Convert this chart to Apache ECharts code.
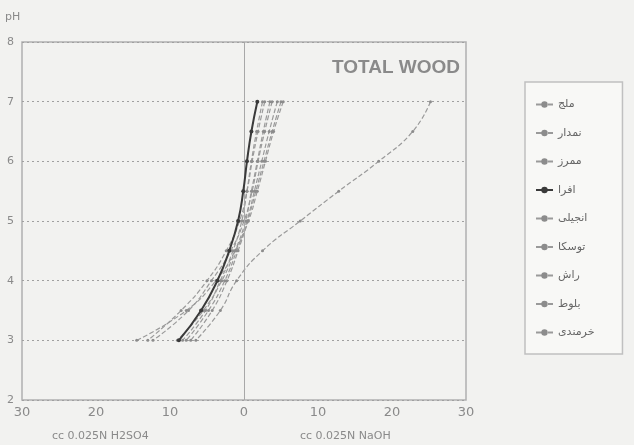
<!DOCTYPE html>
<html>
<head>
<meta charset="utf-8">
<script src="https://cdn.jsdelivr.net/npm/echarts@6/dist/echarts.min.js"></script>
<style>
  html, body { margin: 0; padding: 0; background: #f2f2f0; }
  #chart { width: 634px; height: 445px; }
</style>
</head>
<body>
<div id="chart"></div>
<script>
// pH levels the curves are read at
const phLevels = [7, 6.5, 6, 5.5, 5, 4.5, 4, 3.5, 3];

// cc of titrant at each pH (acid negative, base positive)
const woodNames = ['ملج', 'نمدار', 'ممرز', 'افرا', 'انجیلی', 'توسکا', 'راش', 'بلوط', 'خرمندی'];
const molj    = [3.5, 2.6, 1.8, 1.0, 0.2, -1.2, -3.0, -5.5, -9.0];
const namdar  = [4.5, 3.4, 2.4, 1.4, 0.4, -1.0, -2.6, -4.8, -7.8];
const mamraz  = [5.0, 3.8, 2.7, 1.6, 0.5, -0.8, -2.3, -4.3, -7.2];
const afra    = [1.8, 1.0, 0.4, -0.1, -0.8, -2.0, -3.6, -5.8, -8.8];
const anjili  = [2.8, 1.9, 1.1, 0.4, -0.6, -2.4, -5.0, -8.5, -13.0];
const tuska   = [3.8, 2.8, 1.9, 1.1, 0.0, -1.8, -4.4, -7.5, -12.3];
const rash    = [5.3, 4.0, 2.9, 1.8, 0.6, -1.2, -3.8, -7.8, -14.5];
const balut   = [2.5, 1.7, 1.0, 0.4, -0.3, -1.5, -3.2, -5.2, -8.3];
const khormendi = [25.2, 22.8, 18.2, 12.8, 7.6, 2.5, -1.0, -3.2, -6.5];

const seriesValues = [molj, namdar, mamraz, afra, anjili, tuska, rash, balut, khormendi];

const chart = echarts.init(document.getElementById('chart'));

const series = seriesValues.map((vals, i) => {
  const isBold = i === 3;
  return {
    name: woodNames[i],
    type: 'line',
    data: vals.map((v, k) => [v, phLevels[k]]),
    smooth: true,
    symbol: 'circle',
    symbolSize: isBold ? 4 : 3,
    lineStyle: {
      width: isBold ? 2 : 1.2,
      color: isBold ? '#3a3a3a' : '#9a9a9a',
      type: isBold ? 'solid' : 'dashed'
    },
    itemStyle: { color: isBold ? '#3a3a3a' : '#8c8c8c' },
    z: isBold ? 5 : 3
  };
});

// vertical line at zero
series.push({
  type: 'line',
  data: [],
  markLine: {
    silent: true,
    symbol: 'none',
    label: { show: false },
    lineStyle: { color: '#a8a8a8', type: 'solid', width: 1 },
    data: [{ xAxis: 0 }]
  }
});

chart.setOption({
  backgroundColor: '#f2f2f0',
  animation: false,
  textStyle: { fontFamily: 'DejaVu Sans' },
  title: {
    text: 'TOTAL WOOD',
    right: 169,
    top: 53,
    textStyle: { color: '#8a8a8a', fontSize: 19, fontWeight: 'bold', fontFamily: 'Liberation Sans' }
  },
  grid: {
    left: 22, right: 168, top: 42, bottom: 45,
    show: true, borderColor: '#b0b0b0', borderWidth: 1.5
  },
  legend: {
    orient: 'vertical',
    left: 525,
    top: 82,
    itemGap: 17.5,
    itemWidth: 17,
    itemHeight: 8,
    itemTextGap: 10,
    padding: [17, 28, 16, 10],
    borderColor: '#c0c0c0',
    borderWidth: 1.5,
    backgroundColor: '#f8f8f6',
    data: woodNames,
    textStyle: { color: '#666', fontSize: 11, fontFamily: 'DejaVu Sans' }
  },
  xAxis: {
    type: 'value',
    min: -30, max: 30, interval: 10,
    axisLine: { show: false },
    axisTick: { show: false },
    splitLine: { show: false },
    axisLabel: {
      color: '#8a8a8a', fontSize: 13, margin: 6,
      formatter: v => String(Math.abs(v))
    }
  },
  yAxis: {
    type: 'value',
    min: 2, max: 8, interval: 1,
    axisLine: { show: false },
    axisTick: { show: false },
    axisLabel: { color: '#8a8a8a', fontSize: 11, margin: 8 },
    splitLine: {
      show: true,
      lineStyle: { color: '#a0a0a0', type: [2, 3], width: 1.2 }
    }
  },
  graphic: [
    {
      type: 'text', left: 5, top: 12,
      style: { text: 'pH', fill: '#8a8a8a', font: '11px DejaVu Sans' }
    },
    {
      type: 'text', left: 52, top: 431,
      style: { text: 'cc 0.025N H2SO4', fill: '#8a8a8a', font: '11px DejaVu Sans' }
    },
    {
      type: 'text', left: 300, top: 431,
      style: { text: 'cc 0.025N NaOH', fill: '#8a8a8a', font: '11px DejaVu Sans' }
    }
  ],
  series: series
});
</script>
</body>
</html>
